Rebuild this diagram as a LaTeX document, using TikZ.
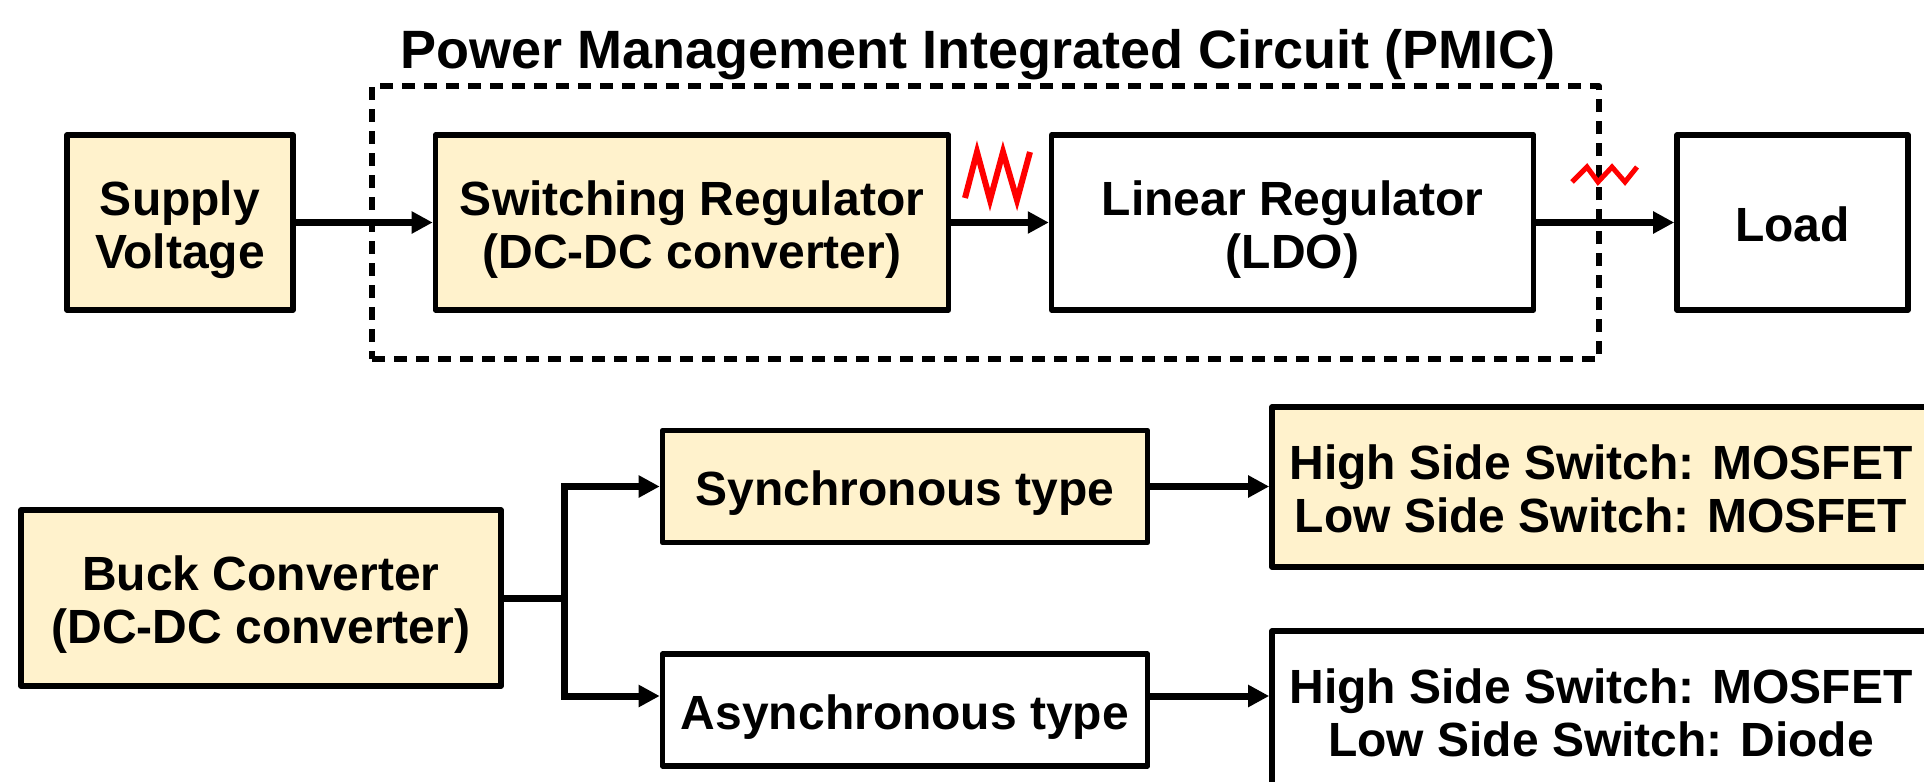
\documentclass[tikz,border=0pt]{standalone}
\usepackage{fontspec}
\setmainfont{Liberation Sans}
\usetikzlibrary{arrows.meta}
\definecolor{cream}{HTML}{FFF2CC}
\newcommand{\tx}[1]{\raisebox{-4.3pt}[\height][\depth]{\begin{tabular}{@{}c@{}}#1\end{tabular}}}
\tikzset{
  blk/.style={draw=black, line width=2.8pt, line join=round, inner sep=0pt,
    font=\bfseries\fontsize{24}{26.5}\selectfont},
  cbox/.style={blk, fill=cream},
  wbox/.style={blk, fill=white},
  conn/.style={line width=3.5pt, -{Triangle[length=10.5pt,width=10.5pt]}},
  wire/.style={line width=3.5pt},
  wave/.style={red, line width=3pt, line join=miter},
  pmicbox/.style={draw=black, line width=2.8pt, line join=round, dash pattern=on 6.5pt off 4.5pt, inner sep=0pt},
}
\begin{document}
\begin{tikzpicture}[x=0.5pt,y=-0.5pt]
\useasboundingbox (0,0) rectangle (1924,782);
\clip (0,0) rectangle (1924,782);
\fill[white] (0,0) rectangle (1924,782);

% top row
\node[font=\bfseries\fontsize{27}{30}\selectfont] (title) at (978,55) {Power Management Integrated Circuit (PMIC)};
\node[pmicbox, minimum width=613.5pt, minimum height=136.5pt] (pmic) at (985.5,222.5) {};
\node[cbox, minimum width=113pt, minimum height=87.5pt] (supply) at (180,222.5) {\tx{Supply\\Voltage}};
\node[cbox, minimum width=256.5pt, minimum height=87.5pt] (switch) at (692,222.5) {\tx{Switching Regulator\\(DC-DC converter)}};
\node[wbox, minimum width=241pt, minimum height=87.5pt] (linear) at (1292.6,222.5) {\tx{Linear Regulator\\(LDO)}};
\node[wbox, minimum width=115.5pt, minimum height=87.5pt] (load) at (1792.5,222.5) {\tx{Load}};

\draw[conn] (supply.east) -- (switch.west);
\draw[conn] (switch.east) -- (linear.west);
\draw[conn] (linear.east) -- (load.west);

\draw[wave] (965,198) -- (977,152) -- (990,200) -- (1003,152) -- (1017,200) -- (1030,152);
\draw[wave, line width=2.5pt] (1572,182) -- (1587,167) -- (1598,182) -- (1612,167) -- (1625,182) -- (1637,167);

% bottom row
\node[cbox, minimum width=240pt, minimum height=88pt] (buck) at (261,598) {\tx{Buck Converter\\(DC-DC converter)}};
\node[cbox, minimum width=242.5pt, minimum height=56pt] (sync) at (905,486.5) {\tx{Synchronous type}};
\node[wbox, minimum width=242.5pt, minimum height=56pt] (async) at (905,710) {\tx{Asynchronous type}};
\node[cbox, minimum width=329pt, minimum height=80pt] (hs1) at (1601,487) {\tx{High Side Switch: MOSFET\\Low Side Switch: MOSFET}};
\node[wbox, minimum width=329pt, minimum height=80pt] (hs2) at (1601,711) {\tx{High Side Switch: MOSFET\\Low Side Switch: Diode}};

\coordinate (j) at (564,598);
\coordinate (aw) at ([yshift=7pt]async.west);
\coordinate (ae) at ([yshift=7pt]async.east);
\draw[wire] (buck.east) -- (j);
\draw[conn] (j) |- (sync.west);
\draw[conn] (j) |- (aw);
\draw[conn] (sync.east) -- (sync.east -| hs1.west);
\draw[conn] (ae) -- (ae -| hs2.west);
\end{tikzpicture}
\end{document}
